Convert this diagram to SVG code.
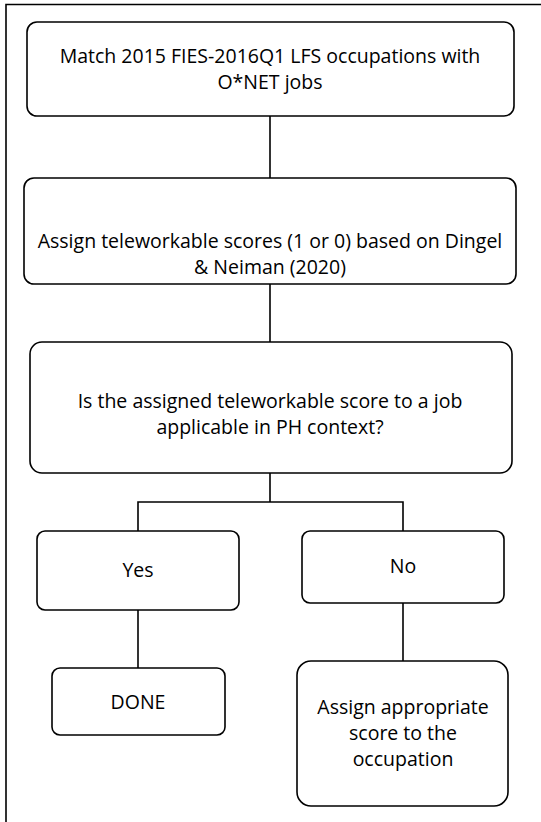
<svg xmlns="http://www.w3.org/2000/svg" width="541" height="822" viewBox="0 0 541 822">
<style>
.box{fill:#fff;stroke:#000;stroke-width:1.6}
.t{font-family:"Open Sans","Liberation Sans",Arial,sans-serif;font-size:19.5px;fill:#000;text-anchor:middle}
.c{fill:none;stroke:#000;stroke-width:1.6}
</style>
<rect width="541" height="822" fill="#fff"/>
<path d="M6,822 V4.5 H541" fill="none" stroke="#000" stroke-width="1.6"/>
<g id="connectors">
<path class="c" d="M270,116 V178"/>
<path class="c" d="M270,284 V342"/>
<path class="c" d="M270,473 V502 M138,531 V502 H403 V531"/>
<path class="c" d="M138,610 V668"/>
<path class="c" d="M403,603 V661"/>
</g>
<g id="n1"><rect class="box" x="27" y="22" width="487" height="94" rx="10"/>
<text class="t" x="270" y="63">Match 2015 FIES-2016Q1 LFS occupations with</text>
<text class="t" x="270" y="89">O*NET jobs</text></g>
<g id="n2"><rect class="box" x="24" y="178" width="492" height="106" rx="10"/>
<text class="t" x="270" y="248">Assign teleworkable scores (1 or 0) based on Dingel</text>
<text class="t" x="270" y="274">&amp; Neiman (2020)</text></g>
<g id="n3"><rect class="box" x="30" y="342" width="482" height="131" rx="12"/>
<text class="t" x="270" y="408">Is the assigned teleworkable score to a job</text>
<text class="t" x="270" y="434">applicable in PH context?</text></g>
<g id="yes"><rect class="box" x="37" y="531" width="202" height="79" rx="8"/>
<text class="t" x="138" y="577">Yes</text></g>
<g id="no"><rect class="box" x="302" y="531" width="202" height="72" rx="8"/>
<text class="t" x="403" y="573">No</text></g>
<g id="done"><rect class="box" x="52" y="668" width="173" height="67" rx="8"/>
<text class="t" x="138" y="709">DONE</text></g>
<g id="assign"><rect class="box" x="297" y="661" width="211" height="145" rx="14"/>
<text class="t" x="403" y="714">Assign appropriate</text>
<text class="t" x="403" y="740">score to the</text>
<text class="t" x="403" y="766">occupation</text></g>
</svg>
